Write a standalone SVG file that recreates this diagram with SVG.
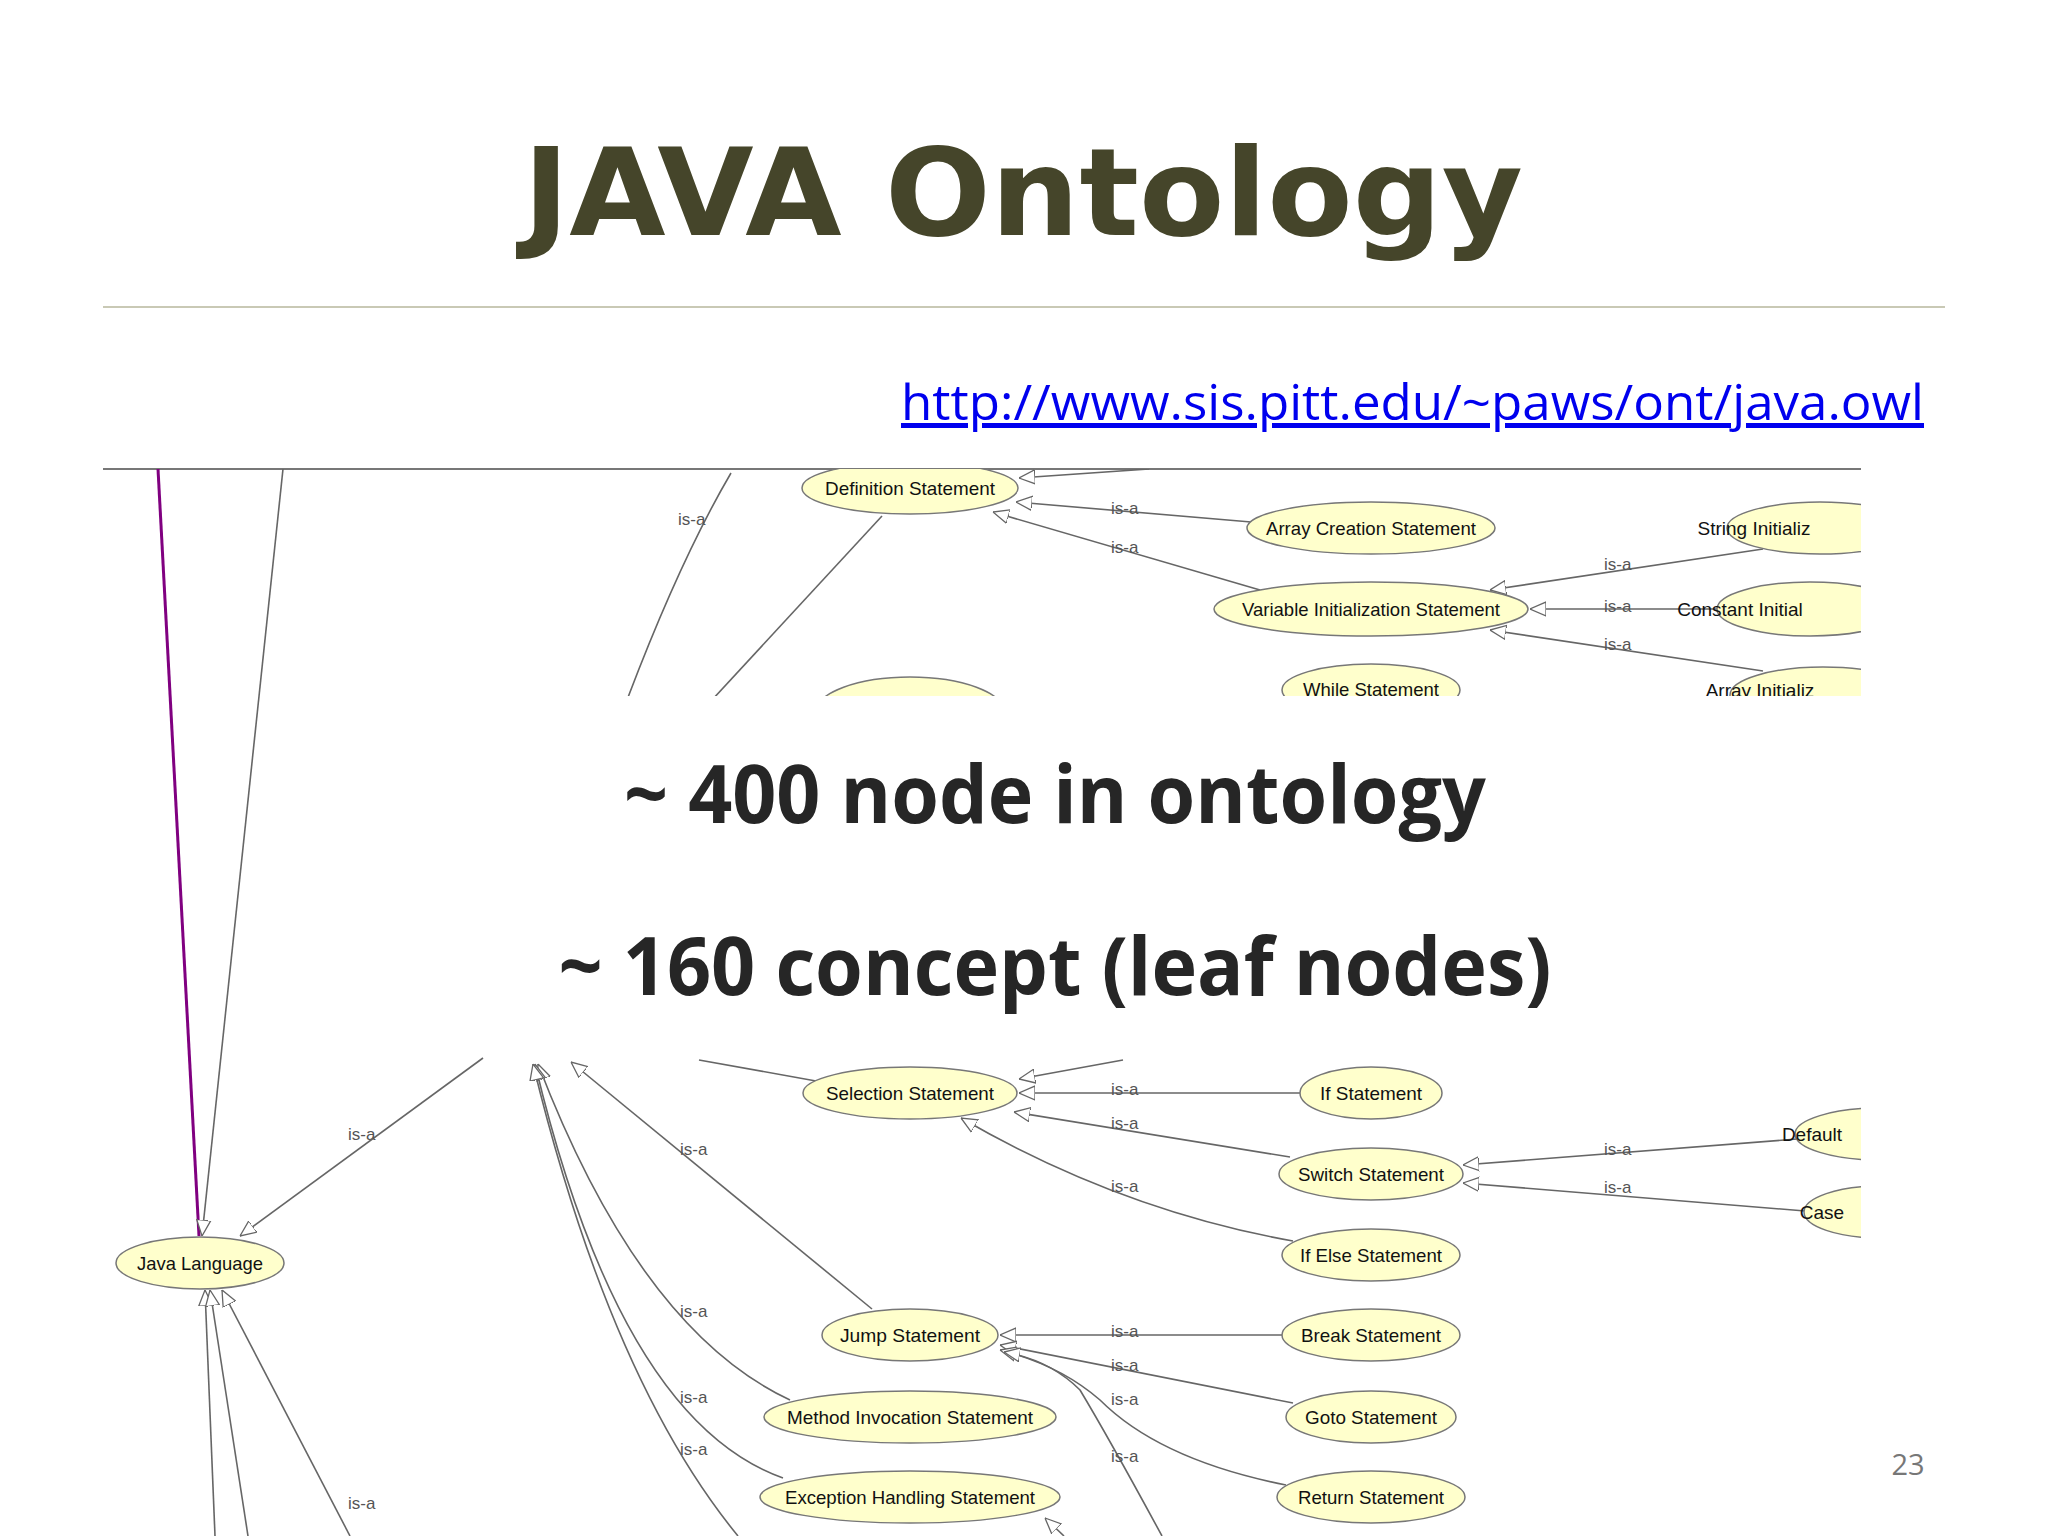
<svg xmlns="http://www.w3.org/2000/svg" width="2048" height="1536" viewBox="0 0 2048 1536">
<style>
.n{fill:#ffffcc;stroke:#777;stroke-width:1.5}
.t{font-family:"Liberation Sans",Arial,sans-serif;font-size:19px;fill:#111;text-anchor:middle}
.l{font-family:"Liberation Sans",Arial,sans-serif;font-size:17px;fill:#555}
.e{fill:none;stroke:#666;stroke-width:1.6}
</style>
<defs>
<marker id="a" viewBox="0 0 16 16" refX="16" refY="8" markerWidth="16" markerHeight="16" markerUnits="userSpaceOnUse" orient="auto">
<path d="M0,1 L16,8 L0,15 Z" fill="#fff" stroke="#666" stroke-width="1.3"/>
</marker>
<clipPath id="img"><rect x="103" y="469" width="1758" height="1067"/></clipPath>
<clipPath id="top"><rect x="103" y="469" width="1758" height="227"/></clipPath>
</defs>
<rect width="2048" height="1536" fill="#fff"/>
<text x="1023" y="235" font-family="DejaVu Sans,Verdana,sans-serif" font-weight="bold" font-size="122" fill="#45452a" text-anchor="middle" textLength="1000" lengthAdjust="spacingAndGlyphs">JAVA Ontology</text>
<line x1="103" y1="307" x2="1945" y2="307" stroke="#c9c9b5" stroke-width="2"/>
<text x="901" y="420" font-family="Open Sans,Liberation Sans,sans-serif" font-size="50" fill="#0000ee" textLength="1023" lengthAdjust="spacingAndGlyphs" text-decoration="underline">http://www.sis.pitt.edu/~paws/ont/java.owl</text>
<line x1="103" y1="469" x2="1861" y2="469" stroke="#777" stroke-width="2"/>
<g clip-path="url(#img)">
<g id="connectors">
<line x1="158" y1="469" x2="199" y2="1236" stroke="#800080" stroke-width="3"/>
<line class="e" x1="283" y1="469" x2="202" y2="1236" marker-end="url(#a)"/>
<g clip-path="url(#top)">
<path class="e" d="M731,473 Q680,560 627,700"/>
<line class="e" x1="882" y1="516" x2="712" y2="700"/>
<line class="e" x1="1149" y1="469" x2="1019" y2="478" marker-end="url(#a)"/>
<line class="e" x1="1251" y1="522" x2="1016" y2="502" marker-end="url(#a)"/>
<line class="e" x1="1260" y1="590" x2="993" y2="512" marker-end="url(#a)"/>
<line class="e" x1="1763" y1="549" x2="1490" y2="590" marker-end="url(#a)"/>
<line class="e" x1="1717" y1="609" x2="1530" y2="609" marker-end="url(#a)"/>
<line class="e" x1="1763" y1="671" x2="1490" y2="630" marker-end="url(#a)"/>
</g>
<line class="e" x1="483" y1="1058" x2="240" y2="1236" marker-end="url(#a)"/>
<line class="e" x1="215" y1="1536" x2="205" y2="1290" marker-end="url(#a)"/>
<line class="e" x1="248" y1="1536" x2="210" y2="1290" marker-end="url(#a)"/>
<line class="e" x1="350" y1="1536" x2="222" y2="1290" marker-end="url(#a)"/>
<line class="e" x1="872" y1="1309" x2="571" y2="1062" marker-end="url(#a)"/>
<path class="e" d="M790,1400 Q640,1330 538,1064" marker-end="url(#a)"/>
<path class="e" d="M783,1478 Q620,1420 535,1064" marker-end="url(#a)"/>
<path class="e" d="M738,1536 Q610,1380 533,1064" marker-end="url(#a)"/>
<line class="e" x1="699" y1="1060" x2="816" y2="1081"/>
<line class="e" x1="1123" y1="1060" x2="1019" y2="1079" marker-end="url(#a)"/>
<line class="e" x1="1300" y1="1093" x2="1019" y2="1093" marker-end="url(#a)"/>
<line class="e" x1="1290" y1="1157" x2="1014" y2="1112" marker-end="url(#a)"/>
<path class="e" d="M1293,1241 Q1120,1210 961,1118" marker-end="url(#a)"/>
<line class="e" x1="1797" y1="1139" x2="1463" y2="1165" marker-end="url(#a)"/>
<line class="e" x1="1805" y1="1211" x2="1463" y2="1183" marker-end="url(#a)"/>
<line class="e" x1="1286" y1="1335" x2="1000" y2="1335" marker-end="url(#a)"/>
<line class="e" x1="1293" y1="1403" x2="1000" y2="1345" marker-end="url(#a)"/>
<path class="e" d="M1286,1485 Q1160,1460 1100,1400 Q1060,1365 1000,1350" marker-end="url(#a)"/>
<path class="e" d="M1162,1536 Q1110,1440 1080,1390 Q1050,1360 1004,1352" marker-end="url(#a)"/>
<line class="e" x1="1064" y1="1536" x2="1045" y2="1518" marker-end="url(#a)"/>
<g class="l">
<text x="678" y="525">is-a</text>
<text x="1111" y="514">is-a</text>
<text x="1111" y="553">is-a</text>
<text x="1604" y="570">is-a</text>
<text x="1604" y="612">is-a</text>
<text x="1604" y="650">is-a</text>
<text x="348" y="1140">is-a</text>
<text x="348" y="1509">is-a</text>
<text x="680" y="1155">is-a</text>
<text x="680" y="1317">is-a</text>
<text x="680" y="1403">is-a</text>
<text x="680" y="1455">is-a</text>
<text x="1111" y="1095">is-a</text>
<text x="1111" y="1129">is-a</text>
<text x="1111" y="1192">is-a</text>
<text x="1604" y="1155">is-a</text>
<text x="1604" y="1193">is-a</text>
<text x="1111" y="1337">is-a</text>
<text x="1111" y="1371">is-a</text>
<text x="1111" y="1405">is-a</text>
<text x="1111" y="1462">is-a</text>
</g>
</g>
<g clip-path="url(#top)">
<ellipse class="n" cx="1371" cy="440" rx="100" ry="26"/>
<ellipse class="n" cx="1809" cy="440" rx="90" ry="26"/>
<ellipse class="n" cx="910" cy="712" rx="94" ry="35"/>
<g id="n-while"><ellipse class="n" cx="1371" cy="690" rx="89" ry="26"/><text class="t" x="1371" y="696" textLength="136" lengthAdjust="spacingAndGlyphs">While Statement</text></g>
<g id="n-arrinit"><ellipse class="n" cx="1823" cy="695" rx="93" ry="28"/><text class="t" x="1760" y="697" text-anchor="start">Array Initializ</text></g>
</g>
<g id="n-def"><ellipse class="n" cx="910" cy="488" rx="108" ry="26"/><text class="t" x="910" y="495" textLength="170" lengthAdjust="spacingAndGlyphs">Definition Statement</text></g>
<g id="n-arrcreate"><ellipse class="n" cx="1371" cy="528" rx="124" ry="26"/><text class="t" x="1371" y="535" textLength="210" lengthAdjust="spacingAndGlyphs">Array Creation Statement</text></g>
<g id="n-varinit"><ellipse class="n" cx="1371" cy="609" rx="157" ry="27"/><text class="t" x="1371" y="616" textLength="258" lengthAdjust="spacingAndGlyphs">Variable Initialization Statement</text></g>
<g id="n-string"><ellipse class="n" cx="1820" cy="528" rx="93" ry="26"/><text class="t" x="1754" y="535" text-anchor="start">String Initializ</text></g>
<g id="n-const"><ellipse class="n" cx="1810" cy="609" rx="93" ry="27"/><text class="t" x="1740" y="616" text-anchor="start">Constant Initial</text></g>
<g id="n-sel"><ellipse class="n" cx="910" cy="1093" rx="107" ry="26"/><text class="t" x="910" y="1100" textLength="168" lengthAdjust="spacingAndGlyphs">Selection Statement</text></g>
<g id="n-if"><ellipse class="n" cx="1371" cy="1093" rx="71" ry="26"/><text class="t" x="1371" y="1100" textLength="102" lengthAdjust="spacingAndGlyphs">If Statement</text></g>
<g id="n-switch"><ellipse class="n" cx="1371" cy="1174" rx="92" ry="26"/><text class="t" x="1371" y="1181" textLength="146" lengthAdjust="spacingAndGlyphs">Switch Statement</text></g>
<g id="n-ifelse"><ellipse class="n" cx="1371" cy="1255" rx="89" ry="26"/><text class="t" x="1371" y="1262" textLength="142" lengthAdjust="spacingAndGlyphs">If Else Statement</text></g>
<g id="n-default"><ellipse class="n" cx="1880" cy="1134" rx="85" ry="26"/><text class="t" x="1812" y="1141" text-anchor="start">Default</text></g>
<g id="n-case"><ellipse class="n" cx="1880" cy="1212" rx="76" ry="26"/><text class="t" x="1822" y="1219" text-anchor="start">Case</text></g>
<g id="n-java"><ellipse class="n" cx="200" cy="1263" rx="84" ry="26"/><text class="t" x="200" y="1270" textLength="126" lengthAdjust="spacingAndGlyphs">Java Language</text></g>
<g id="n-jump"><ellipse class="n" cx="910" cy="1335" rx="88" ry="26"/><text class="t" x="910" y="1342" textLength="140" lengthAdjust="spacingAndGlyphs">Jump Statement</text></g>
<g id="n-method"><ellipse class="n" cx="910" cy="1417" rx="146" ry="26"/><text class="t" x="910" y="1424" textLength="246" lengthAdjust="spacingAndGlyphs">Method Invocation Statement</text></g>
<g id="n-exc"><ellipse class="n" cx="910" cy="1497" rx="150" ry="26"/><text class="t" x="910" y="1504" textLength="250" lengthAdjust="spacingAndGlyphs">Exception Handling Statement</text></g>
<g id="n-break"><ellipse class="n" cx="1371" cy="1335" rx="89" ry="26"/><text class="t" x="1371" y="1342" textLength="140" lengthAdjust="spacingAndGlyphs">Break Statement</text></g>
<g id="n-goto"><ellipse class="n" cx="1371" cy="1417" rx="85" ry="26"/><text class="t" x="1371" y="1424" textLength="132" lengthAdjust="spacingAndGlyphs">Goto Statement</text></g>
<g id="n-return"><ellipse class="n" cx="1371" cy="1497" rx="94" ry="26"/><text class="t" x="1371" y="1504" textLength="146" lengthAdjust="spacingAndGlyphs">Return Statement</text></g>
</g>
<g font-family="Open Sans,Liberation Sans,sans-serif" font-weight="bold" font-size="80" fill="#262626" text-anchor="middle">
<text x="1055" y="823" textLength="862" lengthAdjust="spacingAndGlyphs">~ 400 node in ontology</text>
<text x="1055" y="995" textLength="993" lengthAdjust="spacingAndGlyphs">~ 160 concept (leaf nodes)</text>
</g>
<text x="1908" y="1475" font-family="Open Sans,Liberation Sans,sans-serif" font-size="29" fill="#777" text-anchor="middle">23</text>
</svg>
